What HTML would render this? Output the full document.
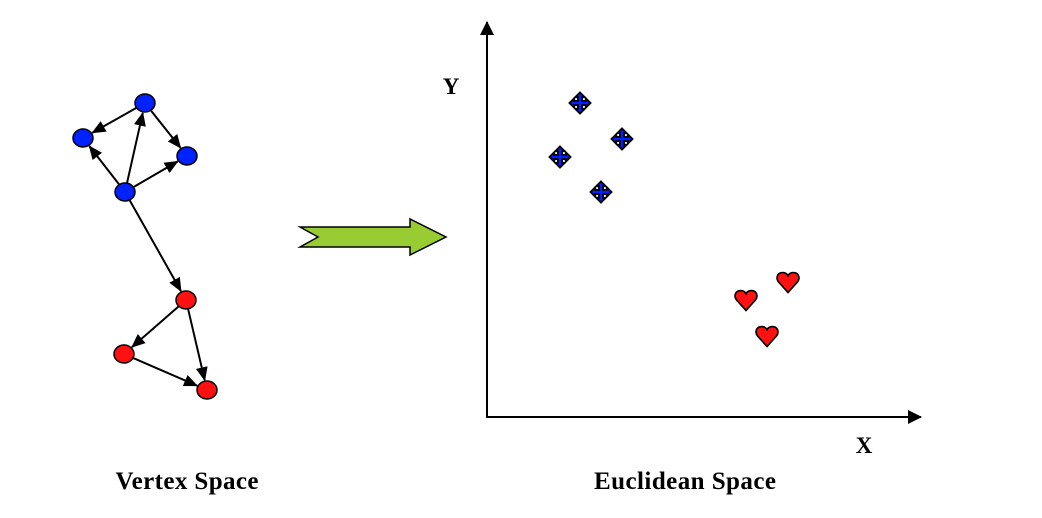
<!DOCTYPE html>
<html><head><meta charset="utf-8"><style>
body{margin:0;background:#fff;width:1042px;height:518px;overflow:hidden}
svg{display:block}
text{font-family:"Liberation Serif",serif;font-weight:bold;font-size:25px;fill:#000}
</style></head><body>
<svg id="s" width="1042" height="518">
<defs>
<marker id="ah" markerWidth="14" markerHeight="12" refX="13" refY="6" orient="auto" markerUnits="userSpaceOnUse">
<path d="M0,0 L14,6 L0,12 z" fill="#000"/></marker>
<marker id="ah2" markerWidth="14" markerHeight="14" refX="13" refY="7" orient="auto" markerUnits="userSpaceOnUse">
<path d="M0,0 L14,7 L0,14 z" fill="#000"/></marker>
</defs>
<g id="graph"></g>
<polygon points="300,227 410,227 410,219 446,237 410,255 410,247 300,247 318,237" fill="#99cc33" stroke="#000" stroke-width="1.5"/>
<line x1="487" y1="417" x2="487" y2="22" stroke="#000" stroke-width="2" marker-end="url(#ah2)"/>
<line x1="486" y1="417" x2="921" y2="417" stroke="#000" stroke-width="2" marker-end="url(#ah2)"/>
<text x="451" y="94" text-anchor="middle" style="font-size:23px">Y</text>
<text x="864" y="453" text-anchor="middle" style="font-size:23px">X</text>
<text x="187" y="489" text-anchor="middle" textLength="143">Vertex Space</text>
<text x="685" y="489" text-anchor="middle" textLength="182">Euclidean Space</text>
<g id="pts"></g>
</svg>
<script>
// graph nodes
const nodeX=[145,83,187,125,186,124,207];
const nodeY=[103,138,156,192,300,354,390];
const nodeColor=["#0022ff","#0022ff","#0022ff","#0022ff","#ff1111","#ff1111","#ff1111"];
const edges=[[0,1],[0,2],[3,0],[3,1],[3,2],[3,4],[4,5],[4,6],[5,6]];
// euclidean points (pixel-space coordinates on plot)
const blueX=[580,622,560,601];
const blueY=[103,139,157,192];
const redX=[788,746,767];
const redY=[282,300,336];
const NS="http://www.w3.org/2000/svg";
const g=document.getElementById('graph');
const rx=10,ry=9;
edges.forEach(([a,b])=>{
  const x1=nodeX[a],y1=nodeY[a],x2=nodeX[b],y2=nodeY[b];
  const dx=x2-x1,dy=y2-y1,L=Math.hypot(dx,dy);
  const ux=dx/L,uy=dy/L;
  const r1=1/Math.sqrt((ux/rx)**2+(uy/ry)**2);
  const l=document.createElementNS(NS,'line');
  
  
  l.setAttribute('x1',x1+ux*r1);l.setAttribute('y1',y1+uy*r1);
  l.setAttribute('x2',x2-ux*(r1+1));l.setAttribute('y2',y2-uy*(r1+1));
  l.setAttribute('stroke','#000');l.setAttribute('stroke-width','2');
  l.setAttribute('marker-end','url(#ah)');
  g.appendChild(l);
});
nodeX.forEach((x,i)=>{
  const e=document.createElementNS(NS,'ellipse');
  
  
  e.setAttribute('cx',x);e.setAttribute('cy',nodeY[i]);
  e.setAttribute('rx',rx);e.setAttribute('ry',ry);
  e.setAttribute('fill',nodeColor[i]);e.setAttribute('stroke','#000');e.setAttribute('stroke-width','1.5');
  g.appendChild(e);
});
const p=document.getElementById('pts');
const cross="M0,-10 L4.5,-5.5 L2,-5.5 L2,-2 L5.5,-2 L5.5,-4.5 L10,0 L5.5,4.5 L5.5,2 L2,2 L2,5.5 L4.5,5.5 L0,10 L-4.5,5.5 L-2,5.5 L-2,2 L-5.5,2 L-5.5,4.5 L-10,0 L-5.5,-4.5 L-5.5,-2 L-2,-2 L-2,-5.5 L-4.5,-5.5 Z";
blueX.forEach((x,i)=>{
  const c=document.createElementNS(NS,'path');
  
  
  c.setAttribute('d',cross);
  c.setAttribute('transform','translate('+x+','+blueY[i]+') scale(1.05)');
  c.setAttribute('fill','#0022ff');c.setAttribute('stroke','#000');c.setAttribute('stroke-width','1.8');
  p.appendChild(c);
});
const heart="M0,10 L-9,0 C-12,-4 -10,-9 -5,-9 C-2,-9 0,-7 0,-5 C0,-7 2,-9 5,-9 C10,-9 12,-4 9,0 Z";
redX.forEach((x,i)=>{
  const h=document.createElementNS(NS,'path');
  
  
  h.setAttribute('d',heart);
  h.setAttribute('transform','translate('+x+','+redY[i]+') scale(1.05)');
  h.setAttribute('fill','#ff1111');h.setAttribute('stroke','#000');h.setAttribute('stroke-width','1.6');
  p.appendChild(h);
});
</script>
</body></html>
